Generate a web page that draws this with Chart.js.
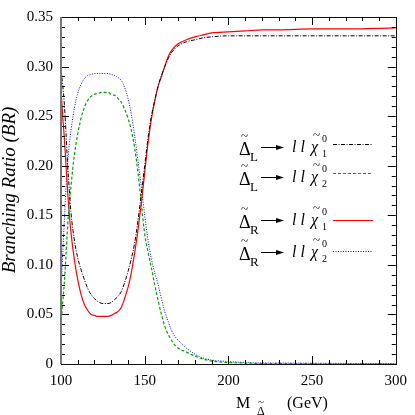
<!DOCTYPE html>
<html><head><meta charset="utf-8">
<script src="https://cdn.jsdelivr.net/npm/chart.js@4.4.0/dist/chart.umd.min.js"></script>
<style>html,body{margin:0;padding:0;background:#fff}#wrap{width:415px;height:415px}</style>
</head><body><div id="wrap"><canvas id="c" width="415" height="415"></canvas></div>
<script>
// ---- data ----
const massGeV = [100,101,102,103,104,105,106,108,110,112,114,116,118,120,122,125,128,130,132,134,136,138,140,142,144,146,148,150,152,154,156,158,160,162,164,166,168,170,175,180,185,190,200,210,220,230,250,270,300];
const brL_chi1 = [0.297,0.282,0.262,0.233,0.200,0.175,0.152,0.125,0.107,0.095,0.085,0.076,0.070,0.066,0.063,0.061,0.061,0.062,0.065,0.068,0.073,0.082,0.093,0.106,0.122,0.145,0.172,0.200,0.228,0.250,0.266,0.280,0.291,0.300,0.308,0.314,0.318,0.321,0.325,0.327,0.329,0.330,0.331,0.331,0.331,0.331,0.331,0.331,0.331];
const brL_chi2 = [0.040,0.062,0.082,0.110,0.140,0.162,0.180,0.211,0.232,0.248,0.259,0.266,0.270,0.272,0.273,0.274,0.274,0.272,0.271,0.268,0.264,0.257,0.248,0.236,0.218,0.193,0.162,0.131,0.113,0.097,0.080,0.064,0.050,0.038,0.030,0.024,0.019,0.016,0.012,0.008,0.005,0.003,0.0015,0.001,0.0005,0.0004,0.0003,0.0002,0.0002];
const brR_chi1 = [0.277,0.250,0.228,0.200,0.173,0.150,0.132,0.105,0.085,0.070,0.060,0.054,0.050,0.049,0.048,0.048,0.048,0.049,0.051,0.053,0.057,0.066,0.077,0.092,0.112,0.135,0.162,0.193,0.223,0.247,0.265,0.280,0.290,0.300,0.310,0.316,0.320,0.323,0.327,0.330,0.332,0.334,0.335,0.336,0.337,0.337,0.338,0.338,0.339];
const brR_chi2 = [0.075,0.110,0.145,0.178,0.203,0.222,0.236,0.258,0.273,0.282,0.288,0.291,0.292,0.293,0.293,0.293,0.293,0.292,0.291,0.289,0.286,0.279,0.268,0.252,0.230,0.205,0.178,0.150,0.125,0.106,0.092,0.080,0.066,0.053,0.043,0.034,0.028,0.024,0.016,0.010,0.006,0.004,0.0025,0.0015,0.001,0.001,0.0008,0.0006,0.0005];
const xTickValues = [100,150,200,250,300];
const yTickValues = [0,0.05,0.10,0.15,0.20,0.25,0.30,0.35];
const legendSubs = ['L','L','R','R'];
const legendChi = ['1','2','1','2'];

const SERIF = '"Liberation Serif", "DejaVu Serif", serif';
const pts = arr => massGeV.map((m,i)=>({x:m,y:arr[i]}));

const datasets = [
  {data:pts(brL_chi1), borderColor:'#000000', borderWidth:1, borderDash:[4,1.5,1,1.5]},
  {data:pts(brL_chi2), borderColor:'#00a000', borderWidth:1.2, borderDash:[3,2]},
  {data:pts(brR_chi1), borderColor:'#ff0000', borderWidth:1.2, borderDash:[]},
  {data:pts(brR_chi2), borderColor:'#0000ff', borderWidth:1, borderDash:[1,1.5]}
].map(d=>Object.assign(d,{pointRadius:0, fill:false, cubicInterpolationMode:'monotone'}));

const decorPlugin = {
  id:'decor',
  afterDatasetsDraw(chart){
    const ctx = chart.ctx, a = chart.chartArea;
    const xs = chart.scales.x, ys = chart.scales.y;
    ctx.save();
    // inner tick marks
    ctx.strokeStyle = '#000'; ctx.lineWidth = 1;
    ctx.beginPath();
    for (let v = xs.min; v <= xs.max + 1e-9; v += 10) {
      const px = Math.round(xs.getPixelForValue(v)) + 0.5;
      const len = (Math.round(v) % 50 === 0) ? 8 : 4;
      ctx.moveTo(px, a.bottom); ctx.lineTo(px, a.bottom - len);
      ctx.moveTo(px, a.top); ctx.lineTo(px, a.top + len);
    }
    for (let k = 0; k <= 35; k++) {
      const v = k / 100;
      const py = Math.round(ys.getPixelForValue(v)) + 0.5;
      const len = (k % 5 === 0) ? 8 : 4;
      ctx.moveTo(a.left, py); ctx.lineTo(a.left + len, py);
      ctx.moveTo(a.right, py); ctx.lineTo(a.right - len, py);
    }
    ctx.stroke();
    // frame
    ctx.strokeStyle = '#111'; ctx.lineWidth = 1;
    ctx.strokeRect(Math.round(a.left)+0.5, Math.round(a.top)+0.5, Math.round(a.right-a.left), Math.round(a.bottom-a.top));
    ctx.strokeStyle = '#777'; ctx.lineWidth = 2;
    ctx.beginPath(); ctx.moveTo(a.left, a.top); ctx.lineTo(a.left, a.bottom); ctx.stroke();

    // y-axis title
    ctx.fillStyle = '#000';
    ctx.save();
    ctx.translate(15, 190); ctx.rotate(-Math.PI/2);
    ctx.font = 'italic 19px ' + SERIF; ctx.textAlign = 'center'; ctx.textBaseline = 'alphabetic';
    ctx.fillText('Branching Ratio (BR)', 0, 0);
    ctx.restore();

    // x-axis title
    ctx.textAlign = 'left'; ctx.textBaseline = 'alphabetic';
    ctx.font = '16px ' + SERIF; ctx.fillText('M', 236, 408);
    ctx.font = '12px ' + SERIF; ctx.fillText('Δ', 257, 415);
    ctx.font = '11px ' + SERIF; ctx.fillText('~', 258, 405);
    ctx.font = '16px ' + SERIF; ctx.fillText('(GeV)', 287, 408);

    // legend
    const baselines = [155,185,228,260];
    chart.data.datasets.forEach((ds,i)=>{
      const b = baselines[i];
      ctx.fillStyle = '#000';
      ctx.font = '18px ' + SERIF; ctx.fillText('Δ', 239, b);
      ctx.font = '13px ' + SERIF; ctx.fillText('~', 241, b-15);
      ctx.font = '13px ' + SERIF; ctx.fillText(legendSubs[i], 250, b+6);
      // arrow
      const ay = b - 7.5;
      ctx.strokeStyle = '#000'; ctx.lineWidth = 1; ctx.setLineDash([]);
      ctx.beginPath(); ctx.moveTo(261, ay); ctx.lineTo(278, ay); ctx.stroke();
      ctx.beginPath(); ctx.moveTo(284, ay); ctx.lineTo(276, ay-2.5); ctx.lineTo(276, ay+2.5); ctx.closePath(); ctx.fill();
      // l l chi
      ctx.font = 'italic 16px ' + SERIF; ctx.fillText('l l', 292, b-3);
      ctx.fillText('χ', 311, b-3);
      ctx.font = '13px ' + SERIF; ctx.fillText('~', 313, b-16);
      ctx.font = '10px ' + SERIF; ctx.fillText('0', 322, b-13); ctx.fillText(legendChi[i], 322, b+2);
      // line sample
      const ly = [144,173,220,251][i] + 0.5;
      ctx.strokeStyle = ds.borderColor; ctx.lineWidth = ds.borderWidth; ctx.setLineDash(ds.borderDash);
      ctx.beginPath(); ctx.moveTo(333, ly); ctx.lineTo(373, ly); ctx.stroke();
      ctx.setLineDash([]);
    });
    ctx.restore();
  }
};

new Chart(document.getElementById('c'), {
  type:'line',
  data:{datasets},
  options:{
    responsive:false, animation:false, devicePixelRatio:1,
    layout:{padding:{top:7,right:18,left:0,bottom:0}},
    plugins:{legend:{display:false}, tooltip:{enabled:false}},
    scales:{
      x:{type:'linear', min:100, max:300,
        afterBuildTicks:s=>{s.ticks = xTickValues.map(v=>({value:v}));},
        afterFit:s=>{s.height = 51;},
        ticks:{font:{family:SERIF,size:15}, color:'#000', padding:8, maxRotation:0, autoSkip:false, callback:v=>String(v)},
        grid:{display:false, drawTicks:false}, border:{display:false}},
      y:{min:0, max:0.35,
        afterBuildTicks:s=>{s.ticks = yTickValues.map(v=>({value:v}));},
        afterFit:s=>{s.width = 61;},
        ticks:{font:{family:SERIF,size:15}, color:'#000', padding:8, autoSkip:false, callback:v=> v===0 ? '0' : v.toFixed(2)},
        grid:{display:false, drawTicks:false}, border:{display:false}}
    }
  },
  plugins:[decorPlugin]
});
</script></body></html>
